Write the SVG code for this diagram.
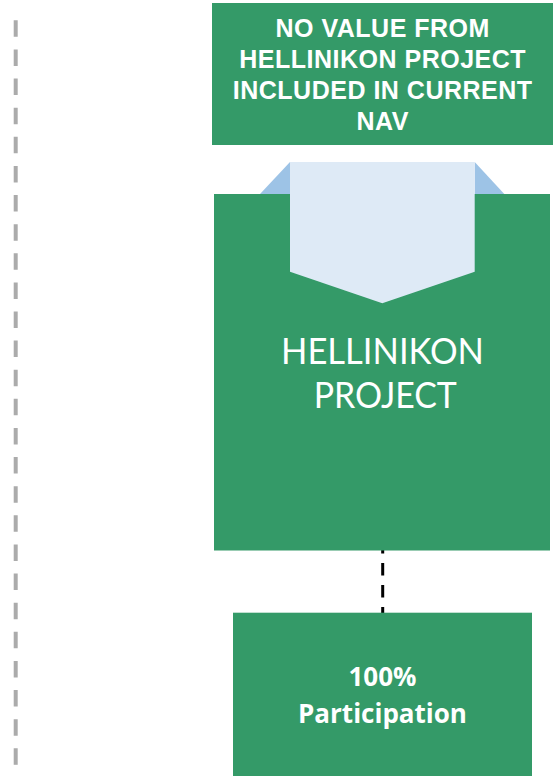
<svg xmlns="http://www.w3.org/2000/svg" width="557" height="779" viewBox="0 0 557 779">
<style>
.box{fill:#349A68;}
.t1{font-family:"Liberation Sans",Arial,sans-serif;font-weight:bold;font-size:25px;letter-spacing:0.5px;fill:#fff;text-anchor:middle;}
.t2{font-family:Lato,"Open Sans",sans-serif;font-size:36.5px;fill:#fff;text-anchor:middle;}
.t3{font-family:"Open Sans","Noto Sans",sans-serif;font-weight:bold;font-size:26px;fill:#fff;text-anchor:middle;}
</style>
<g id="connectors">
<line x1="15.7" y1="20.3" x2="15.7" y2="766" stroke="#ABABAB" stroke-width="4" stroke-dasharray="16.5 12.62"/>
<line x1="382.7" y1="541" x2="382.7" y2="613" stroke="#000" stroke-width="3" stroke-dasharray="12.5 9.5"/>
</g>
<g id="top-box">
<rect class="box" x="212" y="3" width="341" height="142"/>
<text class="t1" x="382.7" y="36.7">NO VALUE FROM</text>
<text class="t1" x="382.7" y="68">HELLINIKON PROJECT</text>
<text class="t1" x="382.7" y="99">INCLUDED IN CURRENT</text>
<text class="t1" x="382.7" y="130">NAV</text>
</g>
<g id="main-box">
<rect class="box" x="214" y="194" width="336" height="356.5"/>
<text class="t2" x="382.5" y="364.3" textLength="203" lengthAdjust="spacingAndGlyphs">HELLINIKON</text>
<text class="t2" x="385.3" y="408.3" textLength="143" lengthAdjust="spacingAndGlyphs">PROJECT</text>
</g>
<g id="arrow">
<polygon points="260,194 290,162 290,194" fill="#9DC3E6"/>
<polygon points="474.7,162 504.3,194 474.7,194" fill="#9DC3E6"/>
<polygon points="290,162 474.7,162 474.7,271.7 382.3,303.3 290,271.7" fill="#DEEAF6"/>
</g>
<g id="bottom-box">
<rect class="box" x="233" y="612.7" width="299" height="163.3"/>
<text class="t3" x="382.5" y="685.7">100%</text>
<text class="t3" x="382.5" y="723.3">Participation</text>
</g>
</svg>
